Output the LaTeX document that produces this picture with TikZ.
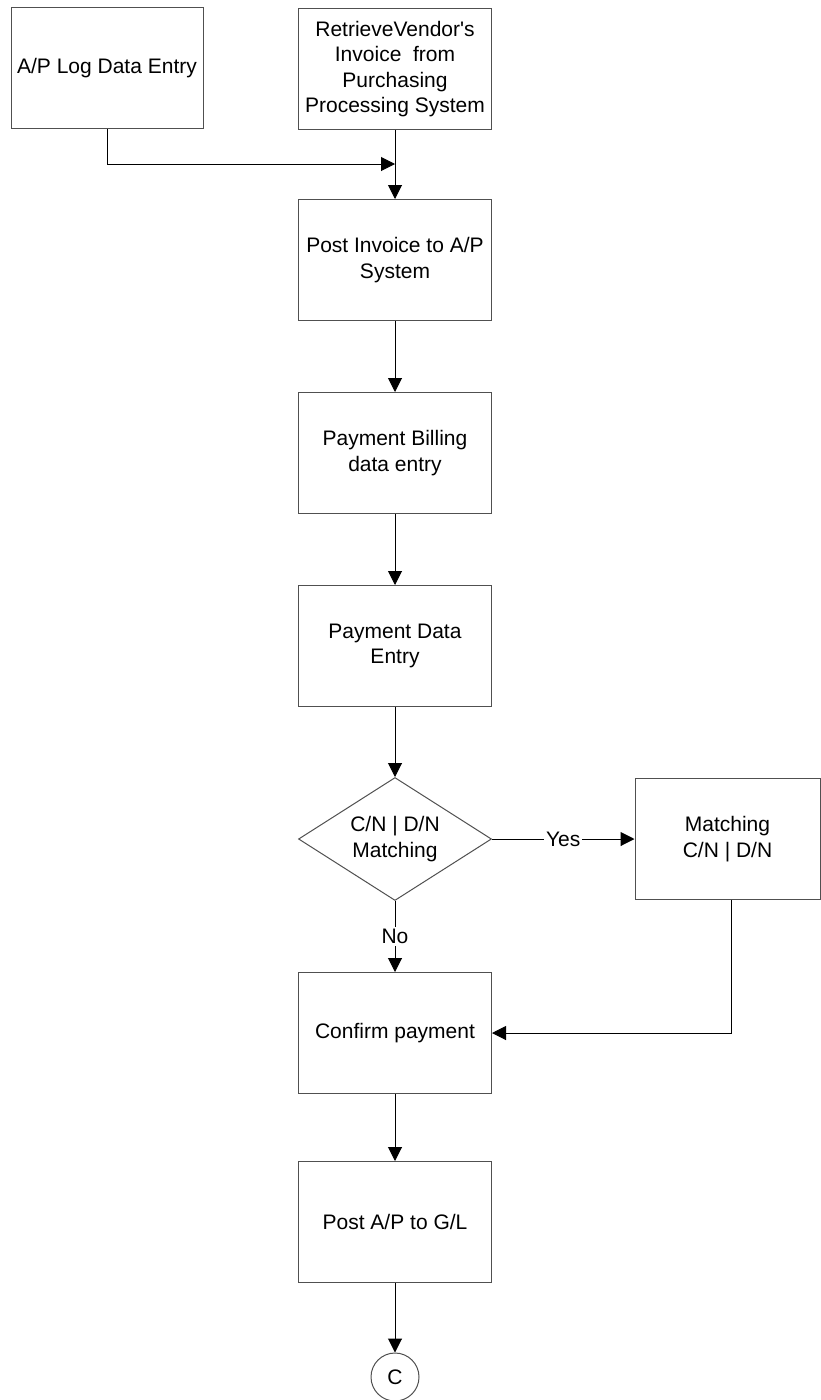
\documentclass[tikz,border=0pt]{standalone}
\usepackage{fontspec}
\setmainfont{Liberation Sans}
\usetikzlibrary{arrows.meta,shapes.geometric}

\begin{document}
\begin{tikzpicture}[x=1pt,y=-1pt,
  stepbox/.style={draw=boxline,line width=1pt,minimum width=193pt,minimum height=121pt,
    inner sep=2pt,align=center,font=\fontsize{21}{25.5}\selectfont},
  choice/.style={stepbox,diamond,aspect=1.57,minimum width=193pt,minimum height=123pt,inner sep=0pt},
  joint/.style={draw=boxline,line width=1pt,circle,minimum size=48pt,inner sep=0pt,
    font=\fontsize{21}{25.5}\selectfont},
  flow/.style={draw=black,line width=1pt,-{Triangle[length=14pt,width=14pt]}},
  tag/.style={fill=white,inner sep=2pt,font=\fontsize{21}{25.5}\selectfont}]
\definecolor{boxline}{HTML}{505050}
\useasboundingbox (0,0) rectangle (821,1400);
% boxes
\node [stepbox,minimum width=192pt] (log) at (107,68) {A/P Log Data Entry};
\node [stepbox] (retrieve) at (395,69) {RetrieveVendor\textquotesingle s\\Invoice\ \ from\\Purchasing\\Processing System};
\node [stepbox] (post) at (395,260) {Post Invoice to A/P\\System};
\node [stepbox] (billing) at (395,453) {Payment Billing\\data entry};
\node [stepbox] (paydata) at (395,646) {Payment Data\\Entry};
\node [choice] (decide) at (395,839) {C/N | D/N\\Matching};
\node [stepbox,minimum width=185pt] (match) at (727.5,839) {Matching\\C/N | D/N};
\node [stepbox] (confirm) at (395,1033) {Confirm payment};
\node [stepbox] (postgl) at (395,1222) {Post A/P to G/L};
\node [joint] (conn) at (395,1377) {C};
\coordinate (join) at (395,164);
% connectors
\draw [flow] (log.south) |- (join);
\foreach \a/\b in {retrieve/post,post/billing,billing/paydata,paydata/decide,confirm/postgl,postgl/conn}
  {\draw [flow] (\a) -- (\b);}
\draw [flow] (decide.east) -- node [tag] {Yes} (match.west);
\draw [flow] (decide.south) -- node [tag] {No} (confirm.north);
\draw [flow] ([xshift=4pt]match.south) |- (confirm.east);
\end{tikzpicture}
\end{document}
